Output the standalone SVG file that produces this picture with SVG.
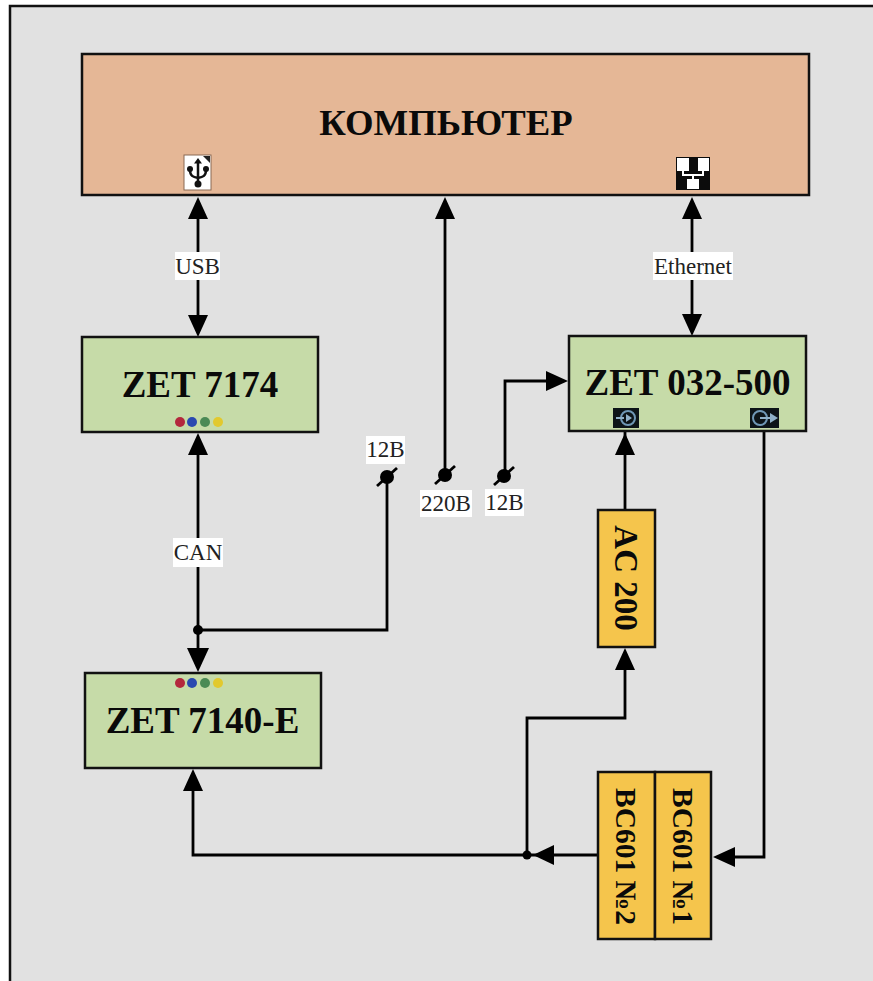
<svg xmlns="http://www.w3.org/2000/svg" width="873" height="981" viewBox="0 0 873 981">
<style>
.box{stroke:#111;stroke-width:2.5}
.g{fill:#c6dba8}
.y{fill:#f5c54c}
.big{font-family:"Liberation Serif",serif;font-weight:bold;fill:#0a0a0a;text-anchor:middle}
.lab{font-family:"Liberation Serif",serif;font-size:23px;fill:#222;text-anchor:middle}
.c{fill:none;stroke:#000;stroke-width:2.8}
.a{fill:#000}
.wb{fill:#fff}
.ic{fill:#0d1418}
.ir{fill:none;stroke:#6f97b5;stroke-width:2}
.ia{fill:#8fb0c8}
</style>
<rect width="873" height="981" fill="#fff"/>
<path d="M10 981V6H873V981Z" fill="#e1e1e1"/>
<path d="M10 981V6H873" fill="none" stroke="#111" stroke-width="2.5"/>

<g id="connectors">
<path class="c" d="M198 215V318"/>
<path class="c" d="M445 215V475"/>
<path class="c" d="M692 215V318"/>
<path class="c" d="M198 452V653"/>
<path class="c" d="M198 630H387V478"/>
<path class="c" d="M505 476V381H550"/>
<path class="c" d="M625 430V510"/>
<path class="c" d="M764 431V857H733"/>
<path class="c" d="M598 855H193V789"/>
<path class="c" d="M527 855V718H625V668"/>
<path class="a" d="M198 197l10 22h-20z"/>
<path class="a" d="M198 337l10-22h-20z"/>
<path class="a" d="M445 197l10 22h-20z"/>
<path class="a" d="M692 197l10 22h-20z"/>
<path class="a" d="M692 336l10-22h-20z"/>
<path class="a" d="M198 433l10 22h-20z"/>
<path class="a" d="M198 672l11-24h-22z"/>
<path class="a" d="M568 381l-22-10v20z"/>
<path class="a" d="M625 433l10 22h-20z"/>
<path class="a" d="M625 648l10 22h-20z"/>
<path class="a" d="M193 769l10 22h-20z"/>
<path class="a" d="M713 857l22-10v20z"/>
<path class="a" d="M533 855l21-10v20z"/>
<circle class="a" cx="198" cy="630" r="5"/>
<circle class="a" cx="527" cy="855" r="4.500"/>
<circle class="a" cx="387" cy="477" r="7"/>
<path class="c" d="M377 486l20-18"/>
<circle class="a" cx="445" cy="475" r="7"/>
<path class="c" d="M435 484l20-18"/>
<circle class="a" cx="504" cy="476" r="7"/>
<path class="c" d="M494 485l20-18"/>
</g>

<g id="label-usb"><rect class="wb" x="175" y="252" width="45" height="28"/><text class="lab" x="197.500" y="274">USB</text></g>
<g id="label-ethernet"><rect class="wb" x="653" y="252" width="80" height="28"/><text class="lab" x="693" y="274">Ethernet</text></g>
<g id="label-can"><rect class="wb" x="173" y="538" width="50" height="29"/><text class="lab" x="198" y="560">CAN</text></g>
<g id="label-12v-a"><rect class="wb" x="366" y="436" width="39" height="28"/><text class="lab" x="385.500" y="457">12В</text></g>
<g id="label-220v"><rect class="wb" x="420" y="490" width="52" height="27"/><text class="lab" x="446" y="511">220В</text></g>
<g id="label-12v-b"><rect class="wb" x="485" y="489" width="39" height="27"/><text class="lab" x="504.500" y="510">12В</text></g>

<g id="computer">
<rect class="box" x="82" y="54" width="727" height="141" fill="#e5b796"/>
<text class="big" x="446" y="135" font-size="36.700">КОМПЬЮТЕР</text>
<g id="usb-icon">
<rect x="184" y="155" width="27" height="35" fill="#fff" stroke="#8a6a55"/>
<path d="M203 156h7v7z" fill="#222"/>
<path d="M198 161v22M190 170c0 6 3 7 8 8 5-1 8-2 8-8" fill="none" stroke="#111" stroke-width="2.500"/>
<path d="M198 158l4 5.500h-8z" fill="#111"/>
<circle cx="190" cy="169" r="3" fill="#111"/><circle cx="206" cy="169" r="3" fill="#111"/><circle cx="198" cy="184" r="3.500" fill="#111"/>
</g>
<g id="ethernet-icon">
<rect x="676" y="157" width="34" height="33" fill="#0c0c0c"/>
<rect x="677" y="158" width="12" height="13" fill="#fff"/>
<rect x="698" y="158" width="11" height="13" fill="#fff"/>
<rect x="687" y="179" width="12" height="10" fill="#fff"/>
<path d="M683 171v4h20v-4M693 175v4" fill="none" stroke="#fff" stroke-width="2"/>
</g>
</g>

<g id="zet7174">
<rect class="box" x="82" y="337" width="236" height="95" fill="#c6dba8"/>
<text class="big" x="200" y="397" font-size="37">ZET 7174</text>
<circle cx="180" cy="422" r="5" fill="#b3283c"/><circle cx="192" cy="422" r="5" fill="#2a49b0"/><circle cx="205" cy="422" r="5" fill="#4b8a55"/><circle cx="218" cy="422" r="5" fill="#e2c92e"/>
</g>

<g id="zet032">
<rect class="box" x="569" y="336" width="237" height="95" fill="#c6dba8"/>
<text class="big" x="687.500" y="395" font-size="37">ZET 032-500</text>
<g id="input-icon">
<rect class="ic" x="613" y="408" width="26" height="20"/>
<circle class="ir" cx="628" cy="418" r="7"/>
<path d="M616 418h8" stroke="#8fb0c8" stroke-width="2"/>
<path class="ia" d="M632 418l-6-4v8z"/>
</g>
<g id="output-icon">
<rect class="ic" x="750" y="408" width="29" height="20"/>
<circle class="ir" cx="760" cy="418" r="7"/>
<path d="M760 418h10" stroke="#8fb0c8" stroke-width="2"/>
<path class="ia" d="M778 418l-8-5v10z"/>
</g>
</g>

<g id="ac200">
<rect class="box y" x="598" y="510" width="57" height="137"/>
<text class="big" font-size="33" transform="translate(615,578) rotate(90)">AC 200</text>
</g>

<g id="zet7140">
<rect class="box" x="85" y="673" width="236" height="95" fill="#c6dba8"/>
<text class="big" x="202.500" y="733" font-size="37">ZET 7140-E</text>
<circle cx="180" cy="683" r="5" fill="#b3283c"/><circle cx="192" cy="683" r="5" fill="#2a49b0"/><circle cx="205" cy="683" r="5" fill="#4b8a55"/><circle cx="218" cy="683" r="5" fill="#e2c92e"/>
</g>

<g id="bc601-2">
<rect class="box y" x="598" y="772" width="57" height="167"/>
<text class="big" font-size="29.500" transform="translate(616,856.500) rotate(90)">ВС601 №2</text>
</g>
<g id="bc601-1">
<rect class="box y" x="655" y="772" width="56" height="167"/>
<text class="big" font-size="29.500" transform="translate(673,856.500) rotate(90)">ВС601 №1</text>
</g>
</svg>
